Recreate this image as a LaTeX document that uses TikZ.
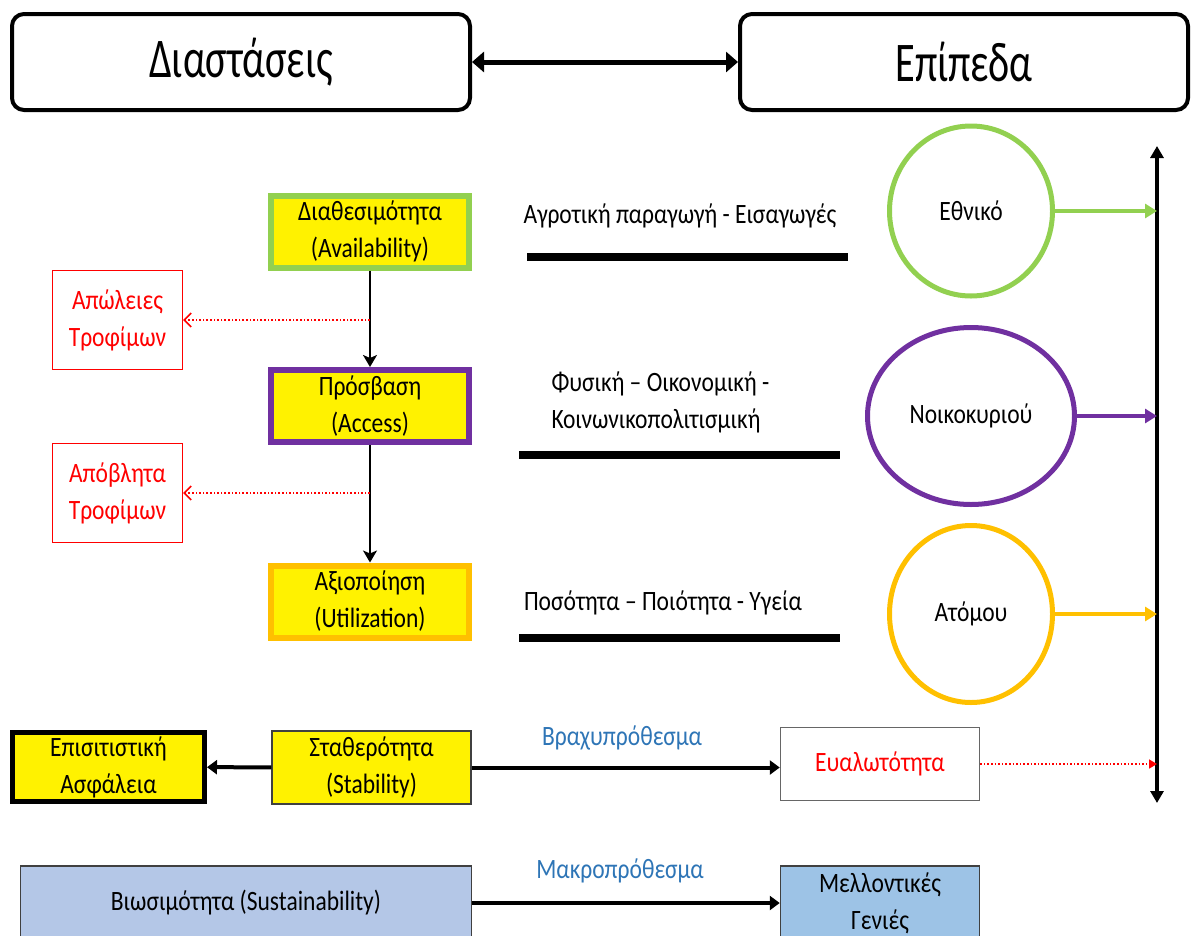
\documentclass[tikz,border=0pt]{standalone}
\usepackage{fontspec}
\setmainfont[FakeStretch=0.84]{Carlito}
\newfontfamily\headfont[FakeStretch=0.72]{Carlito}
\usetikzlibrary{shapes.geometric,arrows.meta}
\definecolor{lvlgreen}{RGB}{146,208,80}
\definecolor{lvlpurple}{RGB}{112,48,160}
\definecolor{lvlorange}{RGB}{255,192,0}
\definecolor{termblue}{RGB}{46,117,182}
\definecolor{sustblue}{RGB}{180,199,231}
\definecolor{futblue}{RGB}{157,195,230}
\newcommand\lblsize{\fontsize{28}{37}\selectfont}
\newcommand\headsize{\headfont\fontsize{56}{68}\selectfont}

\begin{document}
\begin{tikzpicture}[x=1pt,y=-1pt,
  headbox/.style={draw,rounded corners=12pt,line width=4pt,minimum height=96pt,font=\headsize},
  dimbox/.style={draw,fill=yellow,line width=6pt,minimum width=198pt,minimum height=72pt,align=center,font=\lblsize},
  lossbox/.style={draw=red,text=red,line width=1.2pt,minimum width=130pt,minimum height=99pt,align=center,font=\lblsize},
  lvl/.style={ellipse,draw,line width=5pt,font=\lblsize},
  plainbox/.style={draw=black!75,line width=1.5pt,minimum width=199pt,minimum height=73pt,align=center,font=\lblsize},
  bigarrow/.style={line width=4pt,-{Triangle[length=10pt,width=14pt]}},
  lvlarrow/.style={line width=4pt,-{Triangle[length=12pt,width=14pt]}},
  downarrow/.style={line width=2pt,-{Stealth[length=12pt,width=14pt,inset=3pt]}},
  lossarrow/.style={red,dotted,line width=1.6pt,-{Straight Barb[length=7pt,width=14pt,line width=1.6pt]}},
  termlbl/.style={text=termblue,font=\lblsize}]
  \clip (0,0) rectangle (1194,935);

  % headers
  \node[headbox,minimum width=458pt] (dims) at (241,62) {Διαστάσεις};
  \node[headbox,minimum width=448pt] (levels) at (964,62) {Επίπεδα};
  \draw[line width=5pt,{Triangle[length=12pt,width=20pt]}-{Triangle[length=12pt,width=20pt]}] (dims) -- (levels);

  % dimensions
  \node[dimbox,draw=lvlgreen] (avail) at (370,231.5) {Διαθεσιμότητα\\(Availability)};
  \node[dimbox,draw=lvlpurple] (access) at (370,406) {Πρόσβαση\\(Access)};
  \node[dimbox,draw=lvlorange] (util) at (370,601.5) {Αξιοποίηση\\(Utilization)};
  \draw[downarrow] (avail) -- (access);
  \draw[downarrow] (access) -- (util);

  \node[lossbox] (loss) at (117.5,320) {Απώλειες\\Τροφίμων};
  \node[lossbox] (waste) at (117.5,493) {Απόβλητα\\Τροφίμων};
  \draw[lossarrow] (loss.east -| avail.south) -- (loss.east);
  \draw[lossarrow] (waste.east -| access.south) -- (waste.east);

  % descriptions
  \node[font=\lblsize] (prodtxt) at (680,216) {Αγροτική παραγωγή - Εισαγωγές};
  \node[font=\lblsize,align=left,anchor=west] (acctxt) at (548,402) {Φυσική – Οικονομική -\\Κοινωνικοπολιτισμική};
  \node[font=\lblsize] (utiltxt) at (663,603) {Ποσότητα – Ποιότητα - Υγεία};
  \draw[line width=8pt] (527,257) -- (848,257);
  \draw[line width=8pt] (519,455) -- (840,455);
  \draw[line width=8pt] (519,638) -- (840,638);

  % levels
  \node[lvl,draw=lvlgreen,minimum width=163pt,minimum height=170pt] (nat) at (971,211) {Εθνικό};
  \node[lvl,draw=lvlpurple,minimum width=207pt,minimum height=177pt] (house) at (971,416) {Νοικοκυριού};
  \node[lvl,draw=lvlorange,minimum width=163pt,minimum height=177pt] (indiv) at (971,614) {Ατόμου};
  \coordinate (axtop) at (1157,146);
  \coordinate (axbot) at (1157,803);
  \draw[line width=3.5pt,{Triangle[length=12pt,width=13pt]}-{Triangle[length=12pt,width=13pt]}] (axtop) -- (axbot);
  \draw[lvlarrow,lvlgreen] (nat.east) -- (nat.east -| axtop);
  \draw[lvlarrow,lvlpurple] (house.east) -- (house.east -| axtop);
  \draw[lvlarrow,lvlorange] (indiv.east) -- (indiv.east -| axtop);

  % stability
  \node[plainbox,draw=black,line width=5pt,fill=yellow,minimum width=192pt,minimum height=69pt] (foodsec) at (108.5,767) {Επισιτιστική\\Ασφάλεια};
  \node[plainbox,fill=yellow] (stab) at (371.5,767.5) {Σταθερότητα\\(Stability)};
  \node[plainbox,draw=black!60,fill=white,text=red] (vuln) at (880,764) {Ευαλωτότητα};
  \draw[bigarrow] (stab) -- (foodsec);
  \draw[bigarrow] (stab.east) -- (stab.east -| vuln.west);
  \node[termlbl] (shortlbl) at (622,738) {Βραχυπρόθεσμα};
  \draw[red,dotted,line width=1.6pt,-{Triangle[length=8pt,width=9pt]}] (vuln.east) -- (vuln.east -| axtop);

  % sustainability
  \node[plainbox,fill=sustblue,minimum width=451pt,minimum height=74pt] (sust) at (246,903) {Βιωσιμότητα (Sustainability)};
  \node[plainbox,fill=futblue,minimum height=74pt] (future) at (880,903) {Μελλοντικές\\Γενιές};
  \draw[bigarrow] (sust) -- (future);
  \node[termlbl] (longlbl) at (620,871) {Μακροπρόθεσμα};
\end{tikzpicture}
\end{document}
